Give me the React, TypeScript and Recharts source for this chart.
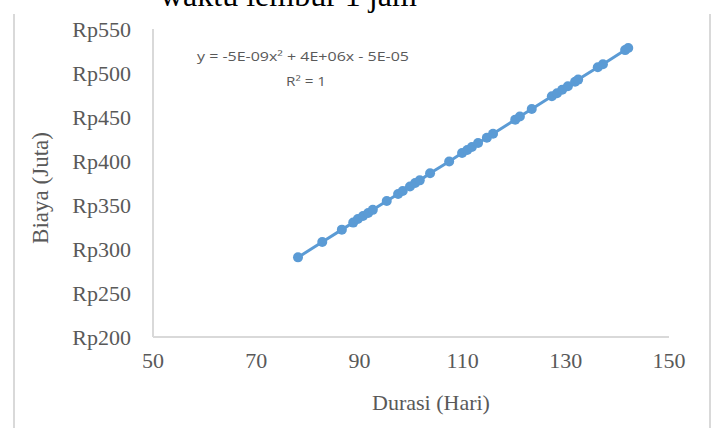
import { ScatterChart, Scatter, XAxis, YAxis } from "recharts";

// durasi (hari) and biaya (juta rupiah)
const durasi = [
  78.1, 82.8, 86.6, 88.8, 89.7, 90.7, 91.7, 92.6, 95.3, 97.5, 98.4, 99.8,
  100.8, 101.7, 103.7, 107.4, 109.9, 110.9, 111.8, 113.0, 114.7, 115.9,
  120.2, 121.1, 123.4, 127.3, 128.3, 129.3, 130.4, 131.8, 132.4, 136.2,
  137.2, 141.5, 142.1,
];
const biaya = [
  290.5, 308, 322, 330, 334, 337.5, 341, 344.5, 354.5, 362.5, 366, 371,
  375, 378, 386, 399.5, 409, 412.5, 416, 420.5, 426.5, 431,
  447, 450.5, 459, 473.5, 477, 481, 485, 490, 492.5, 506.5,
  510, 526, 528.5,
];

const xTicks = [50, 70, 90, 110, 130, 150];
const yTicks = [200, 250, 300, 350, 400, 450, 500, 550];

const points = durasi.map((d, i) => ({ x: d, y: biaya[i] }));

const BLUE = "#5B9BD5";
const AXIS = "#d9d9d9";
const TEXT = "#595959";
const SERIF = "'Liberation Serif', 'Times New Roman', serif";
const SANS = "'Open Sans', 'Liberation Sans', sans-serif";

const Dot = (props: any) => <circle cx={props.cx} cy={props.cy} r={5} fill={BLUE} />;

export default function App() {
  return (
    <div style={{ position: "absolute", left: 0, top: 0, width: 716, height: 428, background: "#fff", overflow: "hidden" }}>
      <div
        style={{
          position: "absolute",
          left: 13,
          top: 14,
          width: 694,
          height: 420,
          borderLeft: `2px solid ${AXIS}`,
          borderRight: `2px solid ${AXIS}`,
        }}
      />
      <ScatterChart width={716} height={428} margin={{ top: 29, right: 47, bottom: 0, left: 0 }}>
        <XAxis
          type="number"
          dataKey="x"
          domain={[50, 150]}
          ticks={xTicks}
          height={91}
          tickLine={false}
          tickSize={0}
          tickMargin={15}
          axisLine={{ stroke: AXIS, strokeWidth: 2 }}
          tick={{ fontSize: 22, fill: TEXT, fontFamily: SERIF }}
        />
        <YAxis
          type="number"
          dataKey="y"
          domain={[200, 550]}
          ticks={yTicks}
          width={153}
          tickLine={false}
          tickSize={0}
          tickMargin={22}
          axisLine={{ stroke: AXIS, strokeWidth: 2 }}
          tick={{ fontSize: 22, fill: TEXT, fontFamily: SERIF }}
          tickFormatter={(v) => `Rp${v}`}
        />
        <Scatter
          data={points}
          fill={BLUE}
          line={{ stroke: BLUE, strokeWidth: 3 }}
          shape={Dot}
          isAnimationActive={false}
        />
      </ScatterChart>
      <svg width={716} height={428} style={{ position: "absolute", left: 0, top: 0, pointerEvents: "none" }}>
        <text x={160} y={6} fontSize={32} fontFamily={SERIF} fill="#000">
          waktu lembur 1 jam
        </text>
        <text
          x={197}
          y={61}
          fontSize={12.5}
          fontFamily={SANS}
          fill={TEXT}
          textLength={212}
          lengthAdjust="spacingAndGlyphs"
        >
          y = -5E-09x² + 4E+06x - 5E-05
        </text>
        <text
          x={286}
          y={86}
          fontSize={12.5}
          fontFamily={SANS}
          fill={TEXT}
          textLength={40}
          lengthAdjust="spacingAndGlyphs"
        >
          R² = 1
        </text>
        <text x={431} y={410} fontSize={22} fontFamily={SERIF} fill={TEXT} textAnchor="middle">
          Durasi (Hari)
        </text>
        <text
          x={48}
          y={188}
          fontSize={23}
          fontFamily={SERIF}
          fill={TEXT}
          textAnchor="middle"
          transform="rotate(-90 48 188)"
        >
          Biaya (Juta)
        </text>
      </svg>
    </div>
  );
}
